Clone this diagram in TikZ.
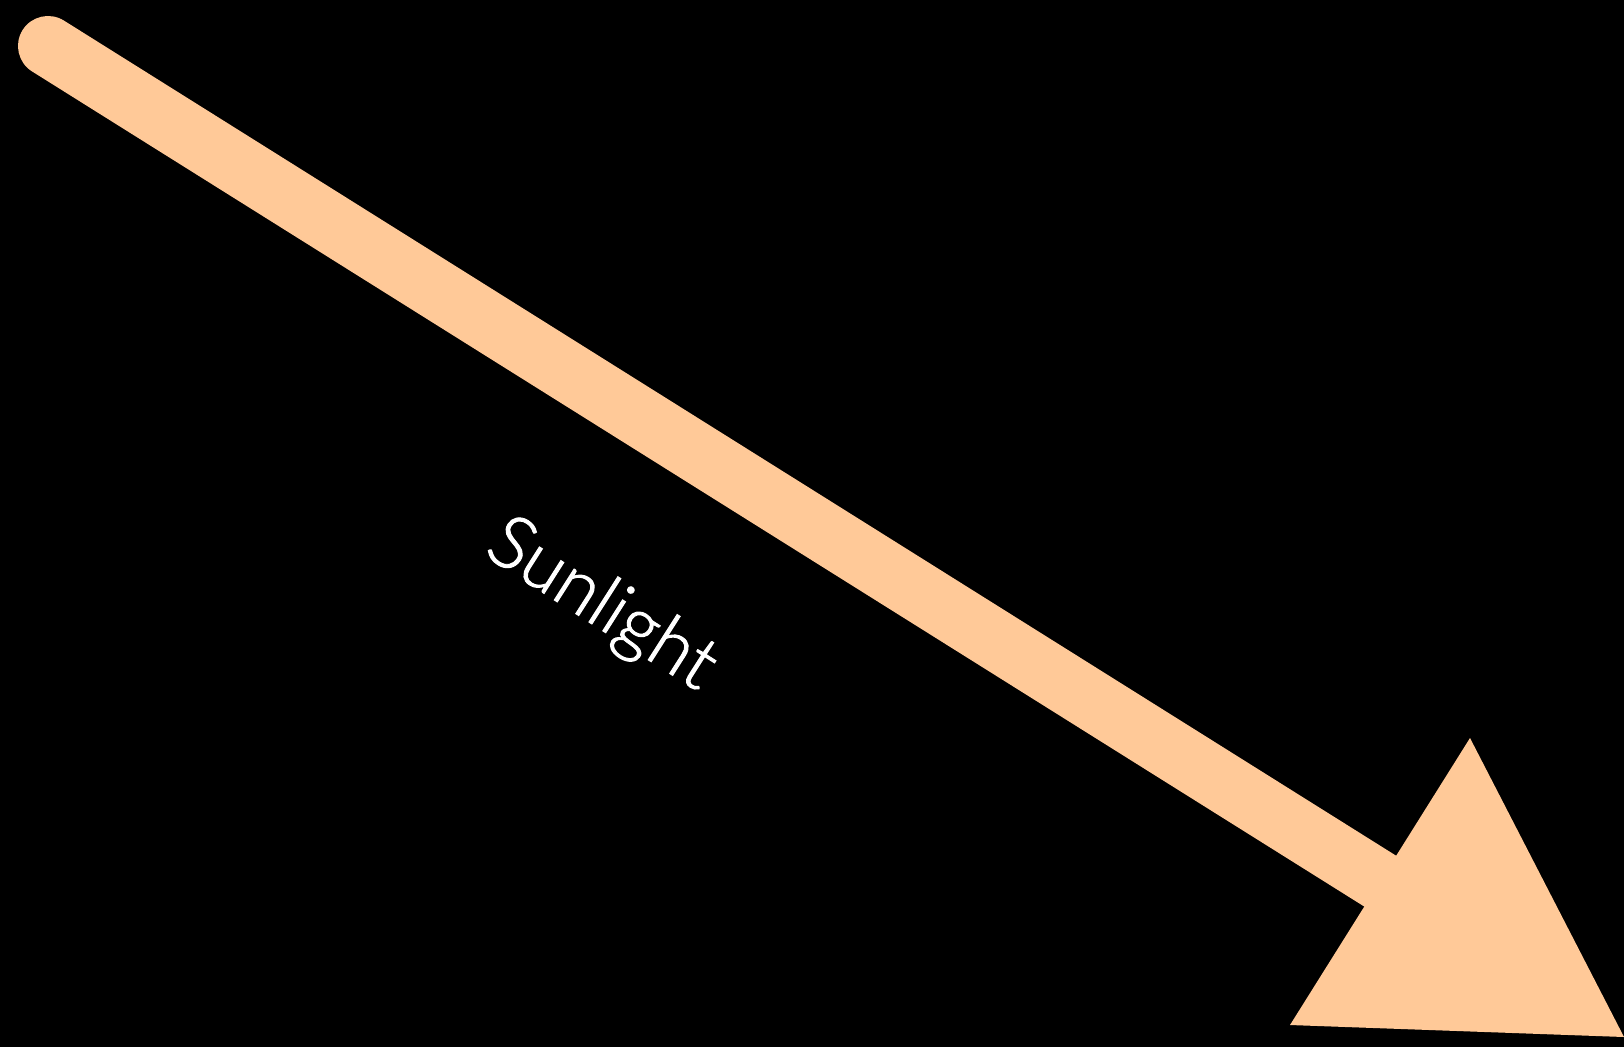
\documentclass[tikz,border=0pt]{standalone}
\usepackage{fontspec}
\usepackage{xcolor}
\usepackage{tikz}
\usetikzlibrary{positioning,calc}
\newfontfamily\sunfont[FakeBold=1.3]{Lato Light}
\definecolor{peach}{RGB}{255,201,152}

\begin{document}
\begin{tikzpicture}[x=1pt, y=-1pt,
  ray/.style={draw=peach, line width=60pt, line cap=round},
  head/.style={fill=peach, draw=none},
  lbl/.style={text=white, font=\sunfont\fontsize{74}{74}\selectfont, inner sep=0pt, rotate=-32.5}
]
\fill[black] (0,0) rectangle (1624,1047);
\useasboundingbox (0,0) rectangle (1624,1047);
\coordinate (src) at (48,46);
\coordinate (base) at (1380,881);
\coordinate (hl) at (1470,738);
\coordinate (hr) at (1290,1025);
\coordinate (tip) at (1624,1037);
\draw[ray] (src) -- (base);
\fill[head] (hl) -- (tip) -- (hr) -- cycle;
\node[lbl] (sun) at (601,606) {Sunlight};
\end{tikzpicture}
\end{document}
